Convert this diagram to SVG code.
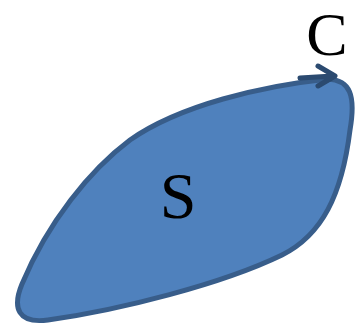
<svg xmlns="http://www.w3.org/2000/svg" width="356" height="325" viewBox="0 0 356 325">
<style>
.lbl{font-family:"Liberation Serif","Times New Roman",serif;fill:#000;text-anchor:middle}
</style>
<g id="region">
<path d="M 328 79 C 350 80, 356 95, 350 130 C 342 195, 322 235, 282 255 C 222 284, 120 310, 48 320 C 18 324, 12 308, 22 284 C 48 222, 90 170, 130 140 C 180 105, 262 86, 328 79 Z" fill="#4F81BD" stroke="#385D8A" stroke-width="5" stroke-linejoin="round"/>
<text class="lbl" x="178" y="218" font-size="66">S</text>
</g>
<g id="connectors">
<path d="M 300 78 L 333 76 M 318 66 L 335 76 L 318 86" fill="none" stroke="#2B4A70" stroke-width="5" stroke-linecap="round" stroke-linejoin="round"/>
</g>
<g id="label-c">
<text class="lbl" x="327" y="55" font-size="62">C</text>
</g>
</svg>
